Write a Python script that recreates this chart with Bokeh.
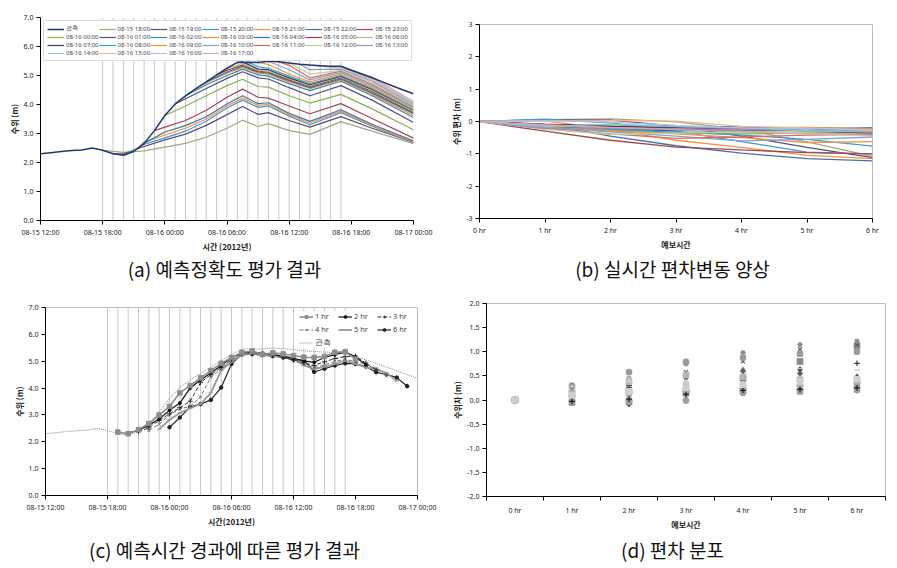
from bokeh.plotting import figure
from bokeh.models import FixedTicker, Legend, LegendItem, Range1d
from bokeh.layouts import row, column
from bokeh.embed import file_html
from bokeh.resources import INLINE
from bokeh.core.properties import value

# ---------------- data ----------------
time_ticks = [0, 6, 12, 18, 24, 30, 36]
time_labels = ["08-15 12:00", "08-15 18:00", "08-16 00:00", "08-16 06:00",
               "08-16 12:00", "08-16 18:00", "08-17 00:00"]

obs_hours = list(range(0, 37))
obs_level = [2.30, 2.34, 2.38, 2.41, 2.43, 2.50, 2.42, 2.30, 2.25, 2.38,
             2.66, 3.10, 3.62, 4.02, 4.30, 4.55, 4.78, 5.02, 5.25, 5.45,
             5.46, 5.45, 5.49, 5.47, 5.43, 5.39, 5.36, 5.34, 5.32, 5.32,
             5.18, 5.05, 4.92, 4.78, 4.64, 4.50, 4.37]

run_starts = list(range(6, 30))
run_labels = ["08-15 18:00", "08-15 19:00", "08-15 20:00", "08-15 21:00", "08-15 22:00", "08-15 23:00",
              "08-16 00:00", "08-16 01:00", "08-16 02:00", "08-16 03:00", "08-16 04:00", "08-16 05:00",
              "08-16 06:00", "08-16 07:00", "08-16 08:00", "08-16 09:00", "08-16 10:00", "08-16 11:00",
              "08-16 12:00", "08-16 13:00", "08-16 14:00", "08-16 15:00", "08-16 16:00", "08-16 17:00"]
obs_label = "관측"

# forecast runs of panel (a): values at the grid hours that follow each run's start
a_grid = [8, 10, 12, 14, 16, 18, 19.5, 21, 22, 24, 26, 29, 32, 36]
a_runs = [
    [2.35, 2.40, 2.53, 2.66, 2.87, 3.18, 3.46, 3.24, 3.34, 3.10, 2.97, 3.41, 3.08, 2.65],
    [2.30, 2.55, 2.78, 2.98, 3.28, 3.65, 3.93, 3.66, 3.72, 3.45, 3.22, 3.58, 3.18, 2.70],
    [2.62, 2.85, 3.08, 3.42, 3.88, 4.15, 3.90, 3.95, 3.60, 3.30, 3.72, 3.25, 2.68],
    [2.70, 2.95, 3.18, 3.50, 3.95, 4.22, 3.97, 4.00, 3.65, 3.36, 3.77, 3.28, 2.72],
    [3.05, 3.27, 3.58, 4.02, 4.30, 4.03, 4.06, 3.70, 3.42, 3.82, 3.32, 2.75],
    [3.22, 3.45, 3.80, 4.25, 4.53, 4.25, 4.22, 3.95, 3.68, 4.03, 3.52, 2.84],
    [3.95, 4.30, 4.65, 4.87, 4.62, 4.60, 4.30, 4.05, 4.35, 3.85, 3.13],
    [4.20, 4.55, 4.90, 5.13, 4.92, 4.88, 4.58, 4.30, 4.65, 4.15, 3.38],
    [4.68, 5.00, 5.22, 5.02, 4.98, 4.72, 4.48, 4.80, 4.30, 3.55],
    [4.75, 5.08, 5.28, 5.08, 5.05, 4.78, 4.55, 4.85, 4.35, 3.62],
    [5.12, 5.32, 5.12, 5.08, 4.82, 4.58, 4.88, 4.40, 3.68],
    [5.18, 5.36, 5.15, 5.12, 4.85, 4.62, 4.92, 4.45, 3.72],
    [5.40, 5.18, 5.15, 4.88, 4.65, 4.95, 4.48, 3.76],
    [5.47, 5.22, 5.20, 4.92, 4.68, 4.98, 4.52, 3.80],
    [5.30, 5.25, 4.98, 4.72, 5.00, 4.55, 3.82],
    [5.38, 5.05, 4.78, 5.05, 4.60, 3.86],
    [5.20, 4.85, 5.10, 4.65, 3.90],
    [5.35, 4.92, 5.15, 4.70, 3.93],
    [5.05, 5.18, 4.75, 3.96],
    [5.20, 5.22, 4.80, 4.00],
    [5.25, 4.85, 4.03],
    [5.28, 4.88, 4.06],
    [5.30, 4.92, 4.08],
    [4.95, 4.10],
]

# forecast minus observed, lead 1..6 hr, one row per run (panels b, c, d)
lead_hours = [0, 1, 2, 3, 4, 5, 6]
lead_labels = ["0 hr", "1 hr", "2 hr", "3 hr", "4 hr", "5 hr", "6 hr"]
dev = [
    [0.06, 0.08, -0.01, -0.24, -0.63, -1.08],
    [0.05, 0.04, -0.14, -0.45, -0.80, -1.12],
    [0.07, -0.04, -0.30, -0.62, -0.95, -1.00],
    [0.02, -0.25, -0.58, -0.80, -1.05, -1.15],
    [-0.10, -0.45, -0.75, -0.98, -1.15, -1.22],
    [-0.30, -0.58, -0.79, -0.88, -0.96, -1.00],
    [-0.20, -0.30, -0.35, -0.38, -0.36, -0.35],
    [-0.21, -0.25, -0.28, -0.30, -0.28, -0.20],
    [-0.17, -0.22, -0.25, -0.25, -0.22, -0.20],
    [-0.13, -0.18, -0.20, -0.20, -0.18, -0.22],
    [-0.10, -0.12, -0.15, -0.17, -0.22, -0.30],
    [-0.11, -0.14, -0.14, -0.20, -0.28, -0.33],
    [-0.12, -0.12, -0.18, -0.26, -0.33, -0.38],
    [-0.08, -0.15, -0.20, -0.25, -0.30, -0.35],
    [-0.20, -0.25, -0.33, -0.42, -0.55, -0.76],
    [-0.18, -0.28, -0.38, -0.50, -0.65, -0.62],
    [-0.20, -0.32, -0.45, -0.60, -0.55, -0.48],
    [-0.22, -0.38, -0.52, -0.48, -0.42, -0.40],
    [-0.24, -0.40, -0.36, -0.33, -0.30, -0.28],
    [-0.22, -0.20, -0.22, -0.25, -0.28, -0.25],
    [-0.16, -0.08, -0.15, -0.20, -0.28, -0.33],
    [0.01, 0.03, 0.01, -0.15, -0.20, -0.27],
    [0.03, -0.02, -0.12, -0.20, -0.22, -0.25],
    [-0.10, -0.18, -0.25, -0.32, -0.38, -0.43],
]

b_yticks = [-3, -2, -1, 0, 1, 2, 3]
d_yticks = [-2.0, -1.5, -1.0, -0.5, 0.0, 0.5, 1.0, 1.5, 2.0]
c_lead_names = ["1 hr", "2 hr", "3 hr", "4 hr", "5 hr", "6 hr"]

captions = ["(a) 예측정확도 평가 결과", "(b) 실시간 편차변동 양상",
            "(c) 예측시간 경과에 따른 평가 결과", "(d) 편차 분포"]

# ---------------- styles ----------------
KR = "Noto Sans CJK KR"
NUM = "Noto Sans"
obs_color = "#203a68"
run_colors = ["#a9a77c", "#5b4a7a", "#3f9cc0", "#f39244", "#4d6fa3", "#a2474f",
              "#8fae4f", "#5e4a8c", "#2e8fa6", "#e98a3d", "#3a6fb0", "#a03a38",
              "#a9c47c", "#463268", "#3aa0c8", "#f5963c", "#7ea3d6", "#d86a66",
              "#b9d393", "#a08cc4", "#8cc4e0", "#f8b588", "#a8c5ea", "#d8a9a6"]
d_markers = ["diamond", "square", "triangle", "x", "asterisk", "circle", "cross", "dash",
             "diamond", "square", "triangle", "x", "asterisk", "circle", "cross", "dash",
             "diamond", "square", "triangle", "x", "asterisk", "circle", "cross", "square"]
d_grays = ["#404040", "#8a8a8a", "#a6a6a6", "#595959", "#8c8c8c", "#9a9a9a", "#262626", "#b2b2b2",
           "#6e6e6e", "#a3a3a3", "#c0c0c0", "#4d4d4d", "#a8a8a8", "#8f8f8f", "#333333", "#bfbfbf",
           "#5e5e5e", "#b5b5b5", "#cccccc", "#707070", "#b0b0b0", "#9e9e9e", "#1a1a1a", "#d0d0d0"]

W = 448


def base_fig(h, xr, yr, left, right, top, bottom, outline=True):
    p = figure(width=W, height=h, x_range=Range1d(*xr), y_range=Range1d(*yr),
               output_backend="svg", toolbar_location=None,
               min_border_left=left, min_border_right=right,
               min_border_top=top, min_border_bottom=bottom)
    p.frame_align = False
    p.xgrid.visible = False
    p.ygrid.visible = False
    p.outline_line_color = "#bdbdbd" if outline else None
    p.background_fill_color = "white"
    p.border_fill_color = "white"
    for ax in (p.xaxis[0], p.yaxis[0]):
        ax.axis_line_color = "black"
        ax.axis_line_width = 1
        ax.major_tick_line_color = "black"
        ax.major_tick_in = 0
        ax.major_tick_out = 4
        ax.minor_tick_line_color = None
        ax.major_label_text_font = NUM
        ax.major_label_text_font_size = "7px"
        ax.major_label_text_color = "#222222"
        ax.major_label_standoff = 3
        ax.axis_label_text_font = KR
        ax.axis_label_text_font_style = "bold"
        ax.axis_label_text_font_size = "8px"
        ax.axis_label_text_color = "#222222"
        ax.axis_label_standoff = 1
    return p


def caption_fig(text, h, y_mid):
    p = figure(width=W, height=h, x_range=Range1d(0, 1), y_range=Range1d(0, h),
               output_backend="svg", toolbar_location=None,
               x_axis_location=None, y_axis_location=None, min_border=0)
    p.frame_align = False
    p.grid.visible = False
    p.outline_line_color = None
    p.text(x=[0.5], y=[y_mid], text=[text], text_align="center", text_baseline="middle",
           text_font=value(KR), text_font_size=value("19px"), text_color="#111111")
    return p


def time_axis(p):
    p.xaxis[0].ticker = FixedTicker(ticks=time_ticks)
    p.xaxis[0].major_label_overrides = {t: l for t, l in zip(time_ticks, time_labels)}
    p.yaxis[0].ticker = FixedTicker(ticks=list(range(0, 8)))
    p.yaxis[0].major_label_overrides = {t: "%.1f" % t for t in range(0, 8)}


# ---------------- panel (a) ----------------
pa = base_fig(254, (0, 36), (0, 7), 40, 35, 17, 34, outline=False)
time_axis(pa)
pa.xaxis[0].axis_label = "시간 (2012년)"
pa.yaxis[0].axis_label = "수위 (m)"
pa.segment(x0=run_starts, y0=[0] * len(run_starts), x1=run_starts, y1=[7] * len(run_starts),
           line_color="#c8c8c8", line_width=1)
run_rends = []
for i, s in enumerate(run_starts):
    xs = [s] + [g for g in a_grid if g > s]
    ys = [obs_level[s]] + a_runs[i]
    run_rends.append(pa.line(xs, ys, line_color=run_colors[i], line_width=1.2))
r_obs = pa.line(obs_hours, obs_level, line_color=obs_color, line_width=1.5)
a_items = [LegendItem(label=obs_label, renderers=[r_obs])]
for i, r in enumerate(run_rends):
    a_items.append(LegendItem(label=run_labels[i], renderers=[r]))
leg_a = Legend(items=a_items, location="top_left", orientation="horizontal", ncols=7,
               label_text_font=NUM, label_text_font_size="6px", label_text_line_height=1.0,
               glyph_width=17, glyph_height=4, label_height=4, label_standoff=2,
               spacing=0, padding=3, margin=3,
               border_line_color="#c0c0c0", background_fill_color="white", background_fill_alpha=1)
pa.add_layout(leg_a)

# ---------------- panel (b) ----------------
pb = base_fig(254, (0, 6), (-3, 3), 31, 24, 24, 36)
pb.xaxis[0].ticker = FixedTicker(ticks=lead_hours)
pb.xaxis[0].major_label_overrides = {t: l for t, l in zip(lead_hours, lead_labels)}
pb.yaxis[0].ticker = FixedTicker(ticks=b_yticks)
pb.yaxis[0].major_label_overrides = {t: str(t) for t in b_yticks}
pb.xaxis[0].axis_label = "예보시간"
pb.yaxis[0].axis_label = "수위 편차 (m)"
for i in range(len(run_starts)):
    pb.line(lead_hours, [0.0] + dev[i], line_color=run_colors[i], line_width=1.3)

# ---------------- panel (c) ----------------
pc = base_fig(250, (0, 36), (0, 7), 45, 31, 23, 39)
time_axis(pc)
pc.xaxis[0].axis_label = "시간(2012년)"
pc.yaxis[0].axis_label = "수위 (m)"
pc.segment(x0=run_starts, y0=[0] * len(run_starts), x1=run_starts, y1=[7] * len(run_starts),
           line_color="#c8c8c8", line_width=1)
r_cobs = pc.line(obs_hours, obs_level, line_color="#8a8a8a", line_width=1, line_dash="1 1")
lead_style = [
    dict(color="#8c8c8c", width=1.6, dash="solid", marker="square", size=4.5),
    dict(color="#111111", width=1.2, dash="solid", marker="circle", size=3),
    dict(color="#333333", width=1.0, dash="4 2", marker="cross", size=5),
    dict(color="#777777", width=1.0, dash="4 2", marker="x", size=4.5),
    dict(color="#9a9a9a", width=1.8, dash="solid", marker="dash", size=4.5),
    dict(color="#222222", width=1.2, dash="solid", marker="circle", size=3.5),
]
c_items = [None] * 6
for k in range(6, 0, -1):
    xs = [s + k for s in run_starts]
    ys = [round(obs_level[s + k] + dev[i][k - 1], 2) for i, s in enumerate(run_starts)]
    st = lead_style[k - 1]
    rl = pc.line(xs, ys, line_color=st["color"], line_width=st["width"], line_dash=st["dash"])
    rm = pc.scatter(xs, ys, marker=st["marker"], size=st["size"], line_color=st["color"],
                    fill_color=st["color"], line_width=1)
    c_items[k - 1] = LegendItem(label=c_lead_names[k - 1], renderers=[rl, rm])
c_items.append(LegendItem(label=obs_label, renderers=[r_cobs]))
leg_c = Legend(items=c_items, location="top_right", orientation="horizontal", ncols=3,
               label_text_font=NUM, label_text_font_size="7.5px", label_text_line_height=1.0,
               glyph_width=14, glyph_height=7, label_height=7, label_standoff=2,
               spacing=3, padding=3, margin=4,
               border_line_color=None, background_fill_color="white", background_fill_alpha=1)
pc.add_layout(leg_c)

# ---------------- panel (d) ----------------
pd_ = base_fig(250, (-0.5, 6.5), (-2, 2), 38, 11, 19, 38)
pd_.xaxis[0].ticker = FixedTicker(ticks=lead_hours,
                                  minor_ticks=[h - 0.5 for h in lead_hours] + [lead_hours[-1] + 0.5])
pd_.xaxis[0].major_label_overrides = {t: l for t, l in zip(lead_hours, lead_labels)}
pd_.xaxis[0].major_tick_out = 0
pd_.xaxis[0].minor_tick_out = 4
pd_.xaxis[0].minor_tick_in = 0
pd_.xaxis[0].minor_tick_line_color = "black"
pd_.xaxis[0].major_label_standoff = 5
pd_.yaxis[0].ticker = FixedTicker(ticks=d_yticks)
pd_.yaxis[0].major_label_overrides = {t: "%.1f" % t for t in d_yticks}
pd_.xaxis[0].axis_label = "예보시간"
pd_.yaxis[0].axis_label = "수위차 (m)"
for i in range(len(run_starts)):
    ys = [0.0] + [round(-v, 2) for v in dev[i]]
    g = d_grays[i]
    pd_.scatter(lead_hours, ys, marker=d_markers[i], size=5.5,
                line_color=g, fill_color=g, line_width=1.2)

cap_a = caption_fig(captions[0], 30, 16)
cap_b = caption_fig(captions[1], 30, 16)
cap_c = caption_fig(captions[2], 32, 17)
cap_d = caption_fig(captions[3], 32, 17)

layout = column(row(pa, pb), row(cap_a, cap_b), row(pc, pd_), row(cap_c, cap_d))
open("out.html", "w").write(file_html(layout, INLINE))
